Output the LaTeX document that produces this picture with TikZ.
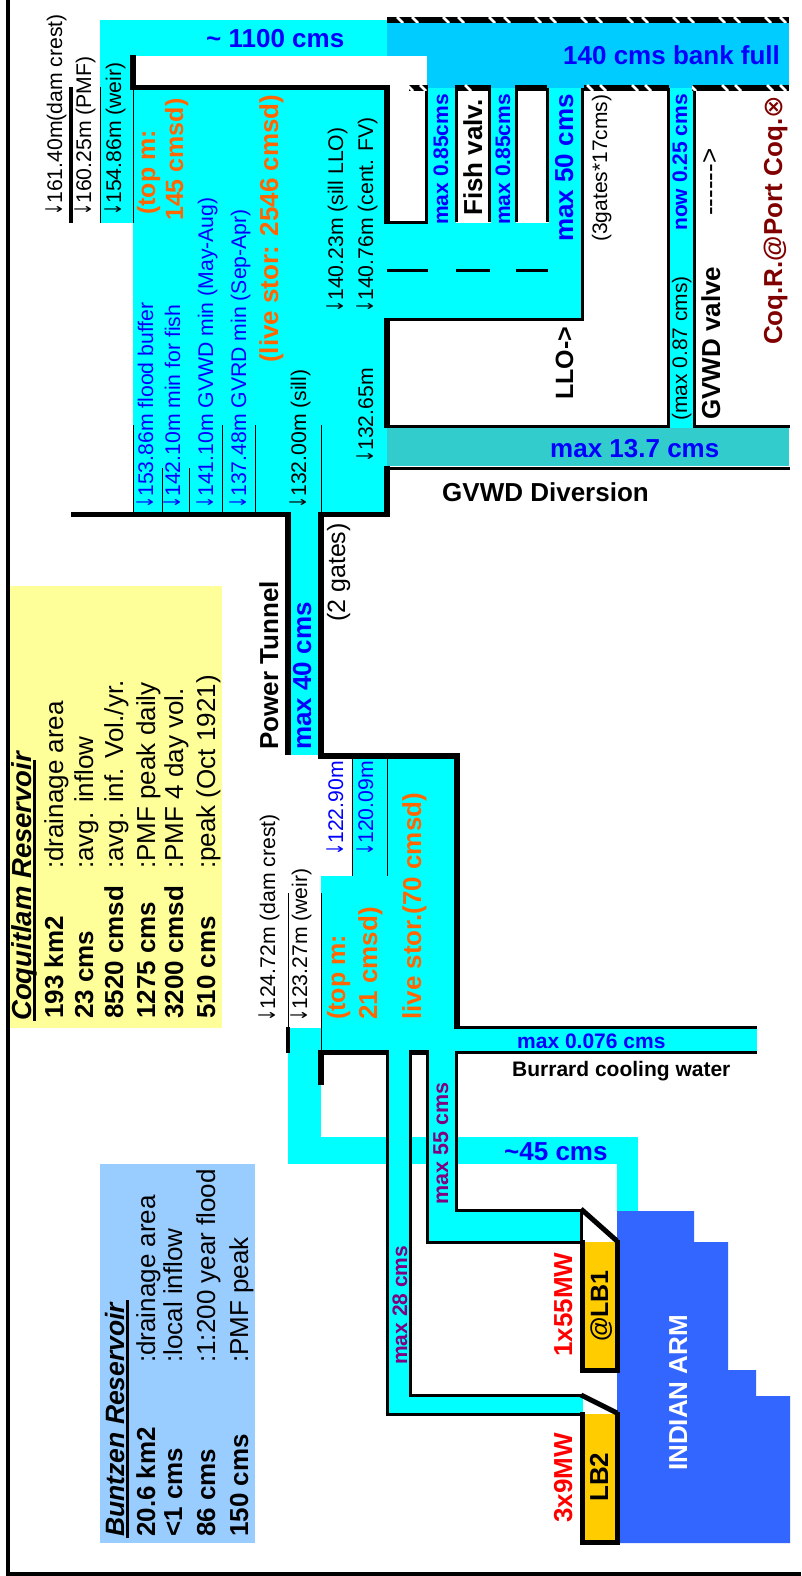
\documentclass[tikz,border=0pt]{standalone}
\usepackage{fontspec}
\setmainfont{Liberation Sans}
\newfontfamily\symfam{DejaVu Sans}
\newcommand\fs[1]{\fontsize{#1}{#1}\selectfont}
\newcommand\dn{\raisebox{0pt}{\scalebox{0.72}[1.15]{{\symfam\fs{20}↓}}}}
\definecolor{aqua}{HTML}{00FFFF}
\definecolor{river}{HTML}{00CCFF}
\definecolor{teal2}{HTML}{33CCCC}
\definecolor{armblue}{HTML}{3366FF}
\definecolor{pale}{HTML}{FFFF99}
\definecolor{paleblue}{HTML}{99CCFF}
\definecolor{plant}{HTML}{FFCC00}
\definecolor{orng}{HTML}{FF6600}
\definecolor{wine}{HTML}{800000}
\definecolor{purp}{HTML}{800080}
\definecolor{lblue}{HTML}{0000FF}
\tikzset{
  rt/.style={rotate=90,anchor=base west,inner sep=0pt,font=\fs{#1}},
  rb/.style={rotate=90,anchor=base west,inner sep=0pt,font=\fs{#1}\bfseries},
  ht/.style={anchor=base west,inner sep=0pt,font=\fs{#1}\bfseries},
  w6/.style={line width=6pt},
  w5/.style={line width=5pt},
  w3/.style={line width=3pt},
  thin1/.style={line width=1pt},
}
\newcommand\hatchband[5]{\begin{scope}
  \clip (#1,#3) rectangle (#2,#4);
  \fill[black] (#1,#3) rectangle (#2,#4);
  \foreach \c in {#5}{\draw[white,line width=2.5pt] (\c-3,#3) -- (\c+3,#4);}
\end{scope}}
\begin{document}
\begin{tikzpicture}[x=1pt,y=-1pt]
\useasboundingbox (0,0) rectangle (801,1576);
\fill[white] (0,0) rectangle (801,1576);
% water
\fill[aqua] (100,20) rectangle (387,56);
\fill[aqua] (100,56) rectangle (133,223);
\fill[aqua] (133,88) rectangle (387,515);
\fill[aqua] (387,223) rectangle (582,319);
\fill[aqua] (428,88) rectangle (456,223);
\fill[aqua] (491,88) rectangle (516,223);
\fill[aqua] (549,88) rectangle (582,223);
\fill[aqua] (669,88) rectangle (693,428);
\fill[aqua] (290,515) rectangle (319,755);
\fill[aqua] (352,756) rectangle (456,876);
\fill[aqua] (321,876) rectangle (456,1052);
\fill[aqua] (288,1028) rectangle (321,1164);
\fill[aqua] (288,1137) rectangle (638,1164);
\fill[aqua] (617,1164) rectangle (638,1211);
\fill[aqua] (456,1029) rectangle (757,1051);
\fill[aqua] (388,1052) rectangle (409,1396);
\fill[aqua] (388,1396) rectangle (583,1414);
\fill[aqua] (429,1052) rectangle (456,1210);
\fill[aqua] (429,1210) rectangle (581,1242);
\fill[river] (387,20) rectangle (789,56);
\fill[river] (427,56) rectangle (789,88);
\fill[teal2] (387,428) rectangle (789,466);
\fill[armblue] (617,1211) -- (694,1211) -- (694,1242) -- (728,1242) -- (728,1370) -- (756,1370) -- (756,1396) -- (790,1396) -- (790,1543) -- (617,1543) -- cycle;
% boxes
\fill[pale] (10,586) rectangle (222,1028);
\fill[paleblue] (100,1164) rectangle (255,1543);
\fill[plant] (584,1242) rectangle (618,1371);
\fill[plant] (584,1414) rectangle (618,1541);
% frame
\draw[line width=4pt] (8,0) -- (8,1574) -- (801,1574);
% upper walls
\draw[w6] (133,55) -- (133,88);
\draw[w5] (130,87.5) -- (390,87.5);
\draw[w6] (387,85) -- (387,224);
\draw[w3] (384,222.5) -- (428,222.5);
\draw[w3] (426.5,88) -- (426.5,224);
\draw[w3] (456.5,88) -- (456.5,222);
\draw[w3] (489.5,88) -- (489.5,222);
\draw[w3] (516.5,88) -- (516.5,222);
\draw[w3] (547.5,88) -- (547.5,222);
\draw[w3] (582.5,88) -- (582.5,321);
\draw[w3] (384,319.5) -- (584,319.5);
\draw[w6] (387,318) -- (387,428);
\draw[w3] (387,426.5) -- (669,426.5);
\draw[w3] (693,426.5) -- (790,426.5);
\draw[w3] (668,88) -- (668,428);
\draw[w3] (694,88) -- (694,428);
\draw[w3] (384,468) -- (790,468);
\draw[w6] (387,466) -- (387,517);
\draw[w5] (71,514.5) -- (291,514.5);
\draw[w5] (318,514.5) -- (390,514.5);
% gate marks
\draw[w3] (387,270) -- (428,270);
\draw[w3] (456,270) -- (490,270);
\draw[w3] (516,270) -- (548,270);
% hatched banks
\hatchband{387}{789}{17}{23}{400,415,446,461,492,507,538,553,584,599,630,645,676,691,722,737,768,783}
\hatchband{409}{428}{85}{91}{410,423}
\hatchband{455}{491}{85}{91}{468}
\hatchband{515}{547}{85}{91}{}
\hatchband{584}{669}{85}{91}{590,603,635,648}
\hatchband{692}{789}{85}{91}{693,725,738,770,783}
% tunnel and lower reservoir
\draw[w6] (288,512) -- (288,755);
\draw[w6] (321,512) -- (321,759);
\draw[w6] (318,756) -- (460,756);
\draw[w6] (457,753) -- (457,1029);
\draw[w3] (454,1027.5) -- (757,1027.5);
\draw[w3] (455,1052.5) -- (757,1052.5);
\draw[line width=4pt] (288,1027) -- (288,1053);
\draw[w6] (321,1050) -- (321,1085);
\draw[w5] (318,1052.5) -- (389,1052.5);
\draw[w5] (409,1052.5) -- (429,1052.5);
\draw[w3] (387,1050) -- (387,1414.5) -- (583,1414.5);
\draw[w3] (410.5,1050) -- (410.5,1395.5) -- (583,1395.5);
\draw[w3] (427.5,1050) -- (427.5,1242.5) -- (583,1242.5);
\draw[w3] (456.5,1052) -- (456.5,1210.5) -- (583,1210.5);
\draw[w3] (581.5,1210) -- (581.5,1243);
\draw[w5] (581,1209) -- (617,1241);
\draw[w5] (581,1395) -- (617,1413);
\draw[w5] (582.5,1240) -- (582.5,1370.5) -- (617.5,1370.5) -- (617.5,1240);
\draw[w5] (582.5,1412) -- (582.5,1542.5) -- (617.5,1542.5) -- (617.5,1412);
% level lines
\draw[line width=3.5pt] (71,87) -- (71,223);
\draw[thin1] (100,87) -- (100,223);
\draw[thin1] (133,88) -- (133,223);
\draw[thin1] (133,425) -- (133,512);
\draw[thin1] (162,468) -- (162,512);
\draw[thin1] (189,468) -- (189,512);
\draw[thin1] (222,425) -- (222,512);
\draw[thin1] (255,425) -- (255,512);
\draw[thin1] (321,425) -- (321,512);
\draw[thin1] (352,759) -- (352,876);
\draw[thin1] (387,759) -- (387,876);
\draw[thin1] (321,893) -- (321,1050);
\draw[thin1] (288,893) -- (288,1027);
% table underlines
\draw[line width=3pt] (34.5,760) -- (34.5,1021);
\draw[line width=3pt] (127.5,1300) -- (127.5,1538);
% horizontal labels
\node[ht=26,text=lblue] (h1) at (206,48) {\textasciitilde\ 1100 cms};
\node[ht=26,text=lblue] (h2) at (563,65) {140 cms bank full};
\node[ht=26,text=lblue] (h3) at (550,457) {max 13.7 cms};
\node[ht=26] (h4) at (442,501) {GVWD Diversion};
\node[ht=21,text=lblue] (h5) at (517,1048) {max 0.076 cms};
\node[ht=21] (h6) at (512,1076) {Burrard cooling water};
\node[ht=26,text=lblue] (h7) at (504,1160) {\textasciitilde 45 cms};
% upper levels
\node[rt=21.2] (u1) at (62,216) {\dn 161.40m(dam crest)};
\node[rt=21.2] (u2) at (91,216) {\dn 160.25m (PMF)};
\node[rt=21.2] (u3) at (121,216) {\dn 154.86m (weir)};
\node[rb=25,text=orng] (u4) at (155,215) {(top m:};
\node[rb=25,text=orng] (u5) at (183,221) {145 cmsd)};
\node[rb=26,text=orng] (u6) at (278,363) {(live stor: 2546 cmsd)};
\node[rt=21.2,text=lblue] (u7) at (153,509) {\dn 153.86m flood buffer};
\node[rt=21.2,text=lblue] (u8) at (180,509) {\dn 142.10m min for fish};
\node[rt=21.2,text=lblue] (u9) at (213,509) {\dn 141.10m GVWD min (May-Aug)};
\node[rt=21.2,text=lblue] (u10) at (246,509) {\dn 137.48m GVRD min (Sep-Apr)};
\node[rt=21.2] (u11) at (306,509) {\dn 132.00m (sill)};
\node[rt=21.2] (u12) at (343,313) {\dn 140.23m (sill LLO)};
\node[rt=21.2] (u13) at (373,313) {\dn 140.76m (cent. FV)};
\node[rt=21.2] (u14) at (373,463) {\dn 132.65m};
% outlets
\node[rb=21,text=lblue] (o1) at (448,225) {max 0.85cms};
\node[rb=26] (o2) at (482,216) {Fish valv.};
\node[rb=21,text=lblue] (o3) at (510,225) {max 0.85cms};
\node[rb=26,text=lblue] (o4) at (573,242) {max 50 cms};
\node[rt=21] (o5) at (607,242) {(3gates*17cms)};
\node[rb=25] (o6) at (573,400) {LLO->};
\node[rb=21,text=lblue] (o7) at (687,231) {now 0.25 cms};
\node[rt=21] (o8) at (687,421) {(max 0.87 cms)};
\node[rb=26] (o9) at (720,420) {GVWD valve};
\node[rt=26] (o10) at (718,216) {\mbox{-}\mbox{-}\mbox{-}\mbox{-}\mbox{-}\mbox{-}>};
\node[rb=26,text=wine] (o11) at (782,345) {Coq.R.@Port Coq.{\symfam\mdseries\fs{27}⊗}};
% tunnel
\node[rb=26] (t1) at (278,750) {Power Tunnel};
\node[rb=26,text=lblue] (t2) at (311,750) {max 40 cms};
\node[rt=25] (t3) at (345,622) {(2 gates)};
% lower levels
\node[rt=21.2] (l1) at (275,1022) {\dn 124.72m (dam crest)};
\node[rt=21.2] (l2) at (307,1022) {\dn 123.27m (weir)};
\node[rt=21.2,text=lblue] (l3) at (343,856) {\dn 122.90m};
\node[rt=21.2,text=lblue] (l4) at (373,856) {\dn 120.09m};
\node[rb=25,text=orng] (l5) at (345,1020) {(top m:};
\node[rb=26,text=orng] (l6) at (377,1020) {21 cmsd)};
\node[rb=26,text=orng] (l7) at (421,1020) {live stor.(70 cmsd)};
\node[rb=21.5,text=purp] (l8) at (448,1205) {max 55 cms};
\node[rb=21,text=purp] (l9) at (407,1365) {max 28 cms};
% plants
\node[rb=26,text=red] (p1) at (572,1357) {1x55MW};
\node[rb=26,text=red] (p2) at (572,1523) {3x9MW};
\node[rb=25] (p3) at (608,1342) {@LB1};
\node[rb=26] (p4) at (608,1502) {LB2};
\node[rb=26,text=white] (p5) at (687,1471) {INDIAN ARM};
% Coquitlam table
\node[rb=27,font=\fs{27.5}\bfseries\itshape] (c0) at (31,1021) {Coquitlam Reservoir};
\node[rb=26] (c1) at (63,1019) {193 km2};
\node[rb=26] (c2) at (93,1019) {23 cms};
\node[rb=26] (c3) at (123,1019) {8520 cmsd};
\node[rb=26] (c4) at (155,1019) {1275 cms};
\node[rb=26] (c5) at (183,1019) {3200 cmsd};
\node[rb=26] (c6) at (215,1019) {510 cms};
\node[rt=26] (d1) at (63,869) {:drainage area};
\node[rt=26] (d2) at (93,869) {:avg. inflow};
\node[rt=26] (d3) at (123,869) {:avg. inf. Vol./yr.};
\node[rt=26] (d4) at (155,869) {:PMF peak daily};
\node[rt=26] (d5) at (183,869) {:PMF 4 day vol.};
\node[rt=26] (d6) at (215,869) {:peak (Oct 1921)};
% Buntzen table
\node[rb=27,font=\fs{26.5}\bfseries\itshape] (b0) at (124,1537) {Buntzen Reservoir};
\node[rb=26] (b1) at (155,1537) {20.6 km2};
\node[rb=26] (b2) at (182,1537) {<1 cms};
\node[rb=26] (b3) at (215,1537) {86 cms};
\node[rb=26] (b4) at (248,1537) {150 cms};
\node[rt=26] (e1) at (155,1363) {:drainage area};
\node[rt=26] (e2) at (182,1363) {:local inflow};
\node[rt=26] (e3) at (215,1363) {:1:200 year flood};
\node[rt=26] (e4) at (248,1363) {:PMF peak};
\end{tikzpicture}
\end{document}
